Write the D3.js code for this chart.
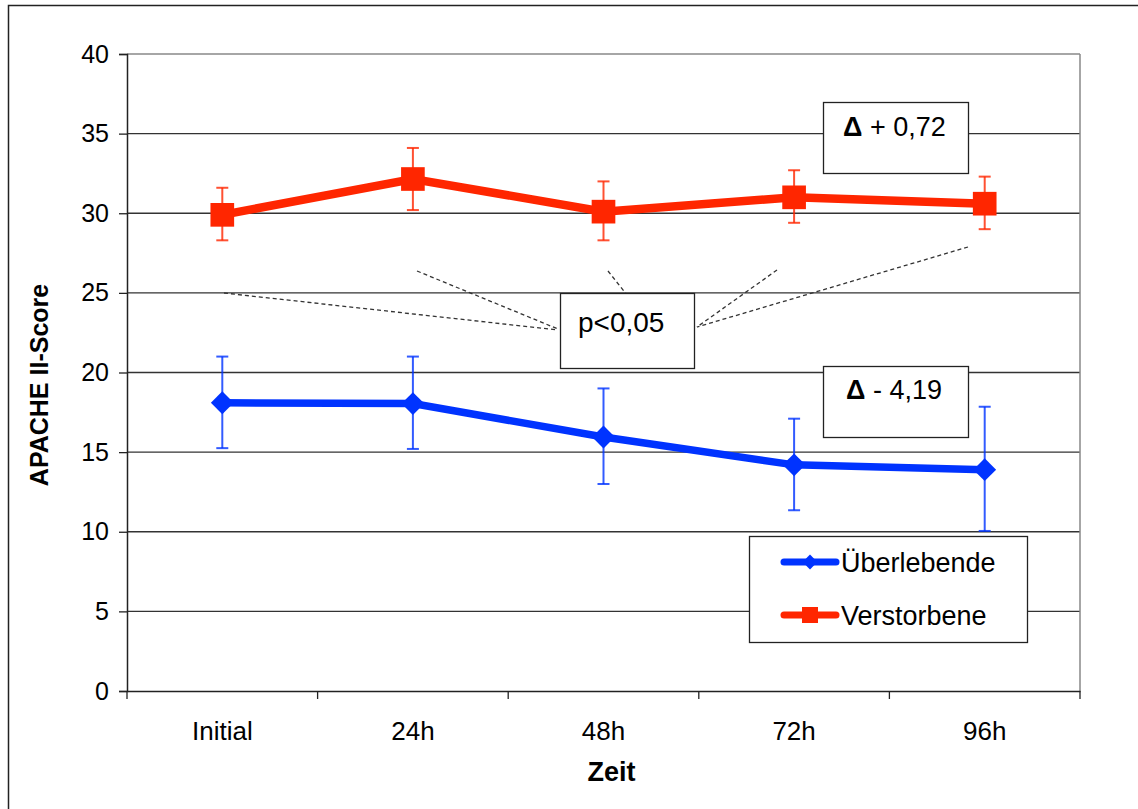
<!DOCTYPE html>
<html>
<head>
<meta charset="utf-8">
<script src="https://cdn.jsdelivr.net/npm/d3@7/dist/d3.min.js"></script>
<style>
  body { margin: 0; background: #fff; }
  svg { font-family: "Liberation Sans", Arial, sans-serif; }
</style>
</head>
<body>
<svg id="chart"></svg>
<script>
const categories = ['Initial', '24h', '48h', '72h', '96h'];
const yTicks = [0, 5, 10, 15, 20, 25, 30, 35, 40];

// Überlebende
const survMean  = [18.1, 18.05, 15.95, 14.2, 13.9];
const survUpper = [21.0, 21.0, 19.0, 17.1, 17.85];
const survLower = [15.25, 15.2, 13.0, 11.35, 10.05];

// Verstorbene
const deadMean  = [29.9, 32.15, 30.1, 31.0, 30.6];
const deadUpper = [31.6, 34.1, 32.0, 32.7, 32.3];
const deadLower = [28.3, 30.2, 28.3, 29.4, 29.0];

const blue = '#0033ff';
const red = '#ff2600';

const config = {
  width: 1138,
  height: 809,
  margin: { top: 54, right: 58, bottom: 118, left: 127 }
};

const svg = d3.select('#chart')
  .attr('width', config.width)
  .attr('height', config.height);

// outer frame
svg.append('rect')
  .attr('x', 8.5).attr('y', 5.5)
  .attr('width', config.width + 20).attr('height', config.height + 20)
  .attr('fill', 'none').attr('stroke', '#222').attr('stroke-width', 1.5);

const width = config.width - config.margin.left - config.margin.right;
const height = config.height - config.margin.top - config.margin.bottom;

const chart = svg.append('g')
  .attr('transform', `translate(${config.margin.left},${config.margin.top})`);

const xScale = d3.scaleBand().domain(categories).range([0, width]);
const yScale = d3.scaleLinear().domain([0, 40]).range([height, 0]);
const xc = d => xScale(d) + xScale.bandwidth() / 2;

// gridlines
chart.selectAll('.grid')
  .data(yTicks.filter(d => d > 0))
  .join('line')
  .attr('class', 'grid')
  .attr('x1', 0).attr('x2', width)
  .attr('y1', d => yScale(d)).attr('y2', d => yScale(d))
  .attr('stroke', d => d === 40 ? '#888' : '#333')
  .attr('stroke-width', 1.3);

// right border of plot area
chart.append('line')
  .attr('x1', width).attr('x2', width)
  .attr('y1', 0).attr('y2', height)
  .attr('stroke', '#888').attr('stroke-width', 1.5);

// axes
const yAxis = d3.axisLeft(yScale).tickValues(yTicks).tickSize(8).tickPadding(10);
const yAxisG = chart.append('g').call(yAxis);
const xAxis = d3.axisBottom(xScale).tickSize(0).tickPadding(31);
const xAxisG = chart.append('g').attr('transform', `translate(0,${height})`).call(xAxis);

[yAxisG, xAxisG].forEach(g => {
  g.select('.domain').attr('stroke', '#222').attr('stroke-width', 1.5);
  g.selectAll('.tick line').attr('stroke', '#222').attr('stroke-width', 1.3);
  g.selectAll('.tick text').attr('fill', '#000')
    .style('font-family', '"Liberation Sans", Arial, sans-serif');
});
yAxisG.selectAll('.tick text').style('font-size', '25px');
xAxisG.selectAll('.tick text').style('font-size', '26px');

// x ticks at band boundaries
xAxisG.selectAll('.bound')
  .data(d3.range(categories.length + 1))
  .join('line')
  .attr('class', 'bound')
  .attr('x1', i => i * xScale.step()).attr('x2', i => i * xScale.step())
  .attr('y1', 0).attr('y2', 8)
  .attr('stroke', '#222').attr('stroke-width', 1.3);

// axis titles
svg.append('text')
  .attr('transform', `translate(48,385) rotate(-90)`)
  .attr('text-anchor', 'middle')
  .style('font-size', '25px').style('font-weight', 'bold')
  .text('APACHE II-Score');

svg.append('text')
  .attr('x', config.margin.left + width / 2 + 8).attr('y', 781)
  .attr('text-anchor', 'middle')
  .style('font-size', '27px').style('font-weight', 'bold')
  .text('Zeit');

// annotation: dashed lines to p-box
const dashes = [
  [224, 293, 558, 330],
  [417, 271, 558, 329],
  [608, 271, 627, 295],
  [777, 270, 697, 327],
  [968, 247, 697, 327]
];
svg.selectAll('.dash')
  .data(dashes)
  .join('line')
  .attr('class', 'dash')
  .attr('x1', d => d[0]).attr('y1', d => d[1])
  .attr('x2', d => d[2]).attr('y2', d => d[3])
  .attr('stroke', '#333').attr('stroke-width', 1.3)
  .attr('stroke-dasharray', '4,3');

// annotation boxes
function box(x, y, w, h) {
  svg.append('rect')
    .attr('x', x + 0.5).attr('y', y + 0.5).attr('width', w).attr('height', h)
    .attr('fill', '#fff').attr('stroke', '#222').attr('stroke-width', 1.3);
}
box(560, 293, 134, 75);
svg.append('text').attr('x', 578).attr('y', 332)
  .style('font-size', '28px').text('p<0,05');

box(823, 102, 145, 71);
const t1 = svg.append('text').attr('x', 843).attr('y', 136)
  .style('font-size', '27px');
t1.append('tspan').style('font-weight', 'bold').text('Δ');
t1.append('tspan').text(' + 0,72');

box(823, 366, 145, 71);
const t2 = svg.append('text').attr('x', 846).attr('y', 399)
  .style('font-size', '27px');
t2.append('tspan').style('font-weight', 'bold').text('Δ');
t2.append('tspan').text(' - 4,19');

// series
const series = [
  { name: 'Überlebende', color: blue, mean: survMean, upper: survUpper, lower: survLower, marker: 'diamond', lw: 7.5 },
  { name: 'Verstorbene', color: red, mean: deadMean, upper: deadUpper, lower: deadLower, marker: 'square', lw: 8.5 }
];

series.forEach(s => {
  const g = chart.append('g');
  const pts = categories.map((c, i) => ({ c, m: s.mean[i], u: s.upper[i], l: s.lower[i] }));

  g.selectAll('.err')
    .data(pts)
    .join('line')
    .attr('x1', d => xc(d.c)).attr('x2', d => xc(d.c))
    .attr('y1', d => yScale(d.u)).attr('y2', d => yScale(d.l))
    .attr('stroke', s.color).attr('stroke-width', 2).attr('opacity', 0.8);

  ['u', 'l'].forEach(k => {
    g.selectAll('.cap-' + k)
      .data(pts)
      .join('line')
      .attr('x1', d => xc(d.c) - 6).attr('x2', d => xc(d.c) + 6)
      .attr('y1', d => yScale(d[k])).attr('y2', d => yScale(d[k]))
      .attr('stroke', s.color).attr('stroke-width', 2).attr('opacity', 0.8);
  });

  g.append('path')
    .datum(pts)
    .attr('fill', 'none')
    .attr('stroke', s.color)
    .attr('stroke-width', s.lw)
    .attr('d', d3.line().x(d => xc(d.c)).y(d => yScale(d.m)));

  g.selectAll('.mk')
    .data(pts)
    .join('path')
    .attr('transform', d => `translate(${xc(d.c)},${yScale(d.m)})${s.marker === 'diamond' ? ' rotate(45)' : ''}`)
    .attr('d', d3.symbol().type(d3.symbolSquare).size(s.marker === 'diamond' ? 260 : 560))
    .attr('fill', s.color);
});

// legend
const legend = svg.append('g');
legend.append('rect')
  .attr('x', 749.5).attr('y', 536.5).attr('width', 278).attr('height', 106)
  .attr('fill', '#fff').attr('stroke', '#222').attr('stroke-width', 1.3);

series.forEach((s, i) => {
  const ly = 562 + i * 53;
  legend.append('line')
    .attr('x1', 784).attr('x2', 836).attr('y1', ly).attr('y2', ly)
    .attr('stroke', s.color).attr('stroke-width', 7).attr('stroke-linecap', 'round');
  legend.append('path')
    .attr('transform', `translate(810,${ly})${s.marker === 'diamond' ? ' rotate(45)' : ''}`)
    .attr('d', d3.symbol().type(d3.symbolSquare).size(s.marker === 'diamond' ? 110 : 256))
    .attr('fill', s.color);
  legend.append('text')
    .attr('x', 841).attr('y', ly + 10)
    .style('font-size', '27px')
    .text(s.name);
});
</script>
</body>
</html>
